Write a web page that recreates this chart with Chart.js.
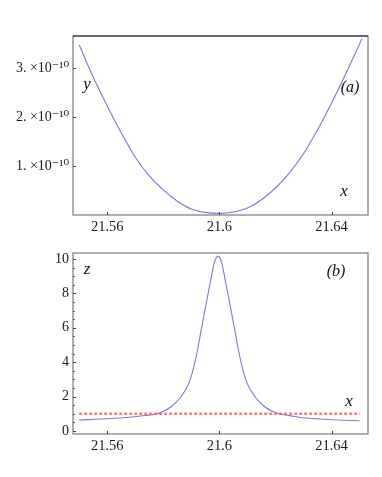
<!DOCTYPE html>
<html>
<head>
<meta charset="utf-8">
<script src="https://cdn.jsdelivr.net/npm/chart.js@4.4.1/dist/chart.umd.min.js"></script>
<style>
    html, body { margin: 0; padding: 0; background: #fff; }
    #wrap { position: relative; width: 382px; height: 477px; }
    #wrap canvas { position: absolute; left: 0; }
    #chartA { top: 0; }
    #chartB { top: 240px; }
</style>
</head>
<body>
<div id="wrap">
    <canvas id="chartA" width="382" height="240"></canvas>
    <canvas id="chartB" width="382" height="237"></canvas>
</div>
<script>
        // Shared x axis
        const xTicks = [21.56, 21.6, 21.64];
        const xTickLabels = ['21.56', '21.6', '21.64'];

        // Panel (a): y in units of 1e-10
        const aX = [21.550, 21.555, 21.560, 21.565, 21.570, 21.575, 21.580, 21.585, 21.590, 21.595, 21.600,
                    21.605, 21.610, 21.615, 21.620, 21.625, 21.630, 21.635, 21.640, 21.645, 21.650, 21.6508];
        const aY = [3.48, 2.82, 2.23, 1.68, 1.18, 0.80, 0.51, 0.28, 0.12, 0.05, 0.03,
                    0.06, 0.14, 0.31, 0.55, 0.86, 1.25, 1.74, 2.29, 2.88, 3.50, 3.60];
        const aYTicks = [1, 2, 3];
        const aYTickLabels = ['1. \u00d710\u207b\u00b9\u2070', '2. \u00d710\u207b\u00b9\u2070', '3. \u00d710\u207b\u00b9\u2070'];

        // Panel (b)
        const bX = [21.550, 21.5595, 21.568, 21.5735, 21.5778, 21.5805, 21.5828, 21.5863, 21.5891, 21.5909,
                    21.5922, 21.5933, 21.5944, 21.5955, 21.5967, 21.5974, 21.5980, 21.5987, 21.5995, 21.6003,
                    21.6010, 21.6016, 21.6023, 21.6035, 21.6046, 21.6057, 21.6068, 21.6081, 21.6099, 21.6127,
                    21.6162, 21.6185, 21.6212, 21.6255, 21.6285, 21.6355, 21.6425, 21.650];
        const bZ = [0.64, 0.71, 0.80, 0.90, 1.00, 1.18, 1.41, 1.99, 2.77, 3.74,
                    4.71, 5.68, 6.65, 7.60, 8.59, 9.20, 9.67, 10.02, 10.17, 10.02,
                    9.67, 9.20, 8.59, 7.60, 6.65, 5.68, 4.71, 3.74, 2.77, 1.99,
                    1.41, 1.18, 1.00, 0.88, 0.80, 0.70, 0.64, 0.60];
        const bRefX = [21.55, 21.65];
        const bRefZ = [1, 1];
        const bYTicks = [0, 2, 4, 6, 8, 10];
        const bYTickLabels = ['0', '2', '4', '6', '8', '10'];
        const bYMinor = [0.5, 1, 1.5, 2.5, 3, 3.5, 4.5, 5, 5.5, 6.5, 7, 7.5, 8.5, 9, 9.5];

        const curveColor = 'rgb(122, 122, 204)';
        const serif = '"Liberation Serif", "DejaVu Serif", serif';

        // Frame, inward ticks and italic labels
        const framePlugin = {
            id: 'frame',
            afterDraw(chart, args, opts) {
                const { ctx, chartArea: a, scales } = chart;
                ctx.save();
                ctx.strokeStyle = '#7a7a7a';
                ctx.lineWidth = 1.2;
                ctx.strokeRect(a.left, a.top, a.right - a.left, a.bottom - a.top);
                if (opts.topColor) {
                    ctx.strokeStyle = opts.topColor;
                    ctx.beginPath();
                    ctx.moveTo(a.left, a.top);
                    ctx.lineTo(a.right, a.top);
                    ctx.stroke();
                }
                ctx.strokeStyle = '#444';
                ctx.lineWidth = 1;
                ctx.beginPath();
                xTicks.forEach(v => {
                    const px = Math.round(scales.x.getPixelForValue(v)) + 0.5;
                    ctx.moveTo(px, a.bottom);
                    ctx.lineTo(px, a.bottom - 3);
                });
                opts.yMajor.forEach(v => {
                    const py = Math.round(scales.y.getPixelForValue(v)) + 0.5;
                    ctx.moveTo(a.left, py);
                    ctx.lineTo(a.left + 3, py);
                });
                (opts.yMinor || []).forEach(v => {
                    const py = Math.round(scales.y.getPixelForValue(v)) + 0.5;
                    ctx.moveTo(a.left, py);
                    ctx.lineTo(a.left + 1.8, py);
                });
                ctx.stroke();

                ctx.fillStyle = '#111';
                ctx.textAlign = 'center';
                ctx.textBaseline = 'middle';
                opts.labels.forEach(l => {
                    ctx.font = 'italic ' + l.size + 'px ' + serif;
                    ctx.fillText(l.text, l.x, l.y);
                });
                ctx.restore();
            }
        };

        function xScale(height) {
            return {
                type: 'linear',
                min: 21.5478,
                max: 21.653,
                afterBuildTicks: s => { s.ticks = xTicks.map(v => ({ value: v })); },
                afterFit: s => { s.height = height; },
                ticks: {
                    callback: v => xTickLabels[xTicks.indexOf(v)],
                    font: { family: serif, size: 14.5 },
                    color: '#1a1a1a',
                    padding: 3,
                    maxRotation: 0,
                    autoSkip: false
                },
                grid: { display: false, drawTicks: false },
                border: { display: false }
            };
        }

        function yScale(min, max, ticks, labels, size) {
            return {
                type: 'linear',
                min: min,
                max: max,
                afterBuildTicks: s => { s.ticks = ticks.map(v => ({ value: v })); },
                afterFit: s => { s.width = 73; },
                ticks: {
                    callback: v => labels[ticks.indexOf(v)],
                    font: { family: serif, size: size },
                    color: '#1a1a1a',
                    padding: 4,
                    autoSkip: false
                },
                grid: { display: false, drawTicks: false },
                border: { display: false }
            };
        }

        const baseOptions = {
            responsive: false,
            animation: false,
            events: [],
            plugins: { legend: { display: false }, tooltip: { enabled: false } },
            elements: { point: { radius: 0 } }
        };

        // Panel (a)
        new Chart(document.getElementById('chartA'), {
            type: 'line',
            data: {
                datasets: [{
                    data: aX.map((x, i) => ({ x: x, y: aY[i] })),
                    borderColor: curveColor,
                    borderWidth: 1.1,
                    cubicInterpolationMode: 'monotone',
                    fill: false
                }]
            },
            options: {
                ...baseOptions,
                layout: { padding: { top: 36, right: 14, left: 0, bottom: 0 } },
                scales: {
                    x: xScale(25),
                    y: yScale(-0.003, 3.661, aYTicks, aYTickLabels, 14)
                },
                plugins: {
                    ...baseOptions.plugins,
                    frame: {
                        topColor: '#222',
                        yMajor: aYTicks,
                        labels: [
                            { text: 'y', x: 87, y: 85, size: 17 },
                            { text: '(a)', x: 350, y: 88, size: 16 },
                            { text: 'x', x: 344, y: 192, size: 17 }
                        ]
                    }
                }
            },
            plugins: [framePlugin]
        });

        // Panel (b)
        new Chart(document.getElementById('chartB'), {
            type: 'line',
            data: {
                datasets: [{
                    data: bRefX.map((x, i) => ({ x: x, y: bRefZ[i] })),
                    borderColor: 'rgba(255, 100, 100, 0.85)',
                    borderWidth: 2.4,
                    borderDash: [3, 2],
                    fill: false
                }, {
                    data: bX.map((x, i) => ({ x: x, y: bZ[i] })),
                    borderColor: curveColor,
                    borderWidth: 1.1,
                    cubicInterpolationMode: 'monotone',
                    fill: false
                }]
            },
            options: {
                ...baseOptions,
                layout: { padding: { top: 13, right: 14, left: 0, bottom: 0 } },
                scales: {
                    x: xScale(43),
                    y: yScale(-0.174, 10.35, bYTicks, bYTickLabels, 14)
                },
                plugins: {
                    ...baseOptions.plugins,
                    frame: {
                        yMajor: bYTicks,
                        yMinor: bYMinor,
                        labels: [
                            { text: 'z', x: 87, y: 30, size: 17 },
                            { text: '(b)', x: 336, y: 32, size: 16 },
                            { text: 'x', x: 349, y: 162, size: 17 }
                        ]
                    }
                }
            },
            plugins: [framePlugin]
        });
</script>
</body>
</html>
